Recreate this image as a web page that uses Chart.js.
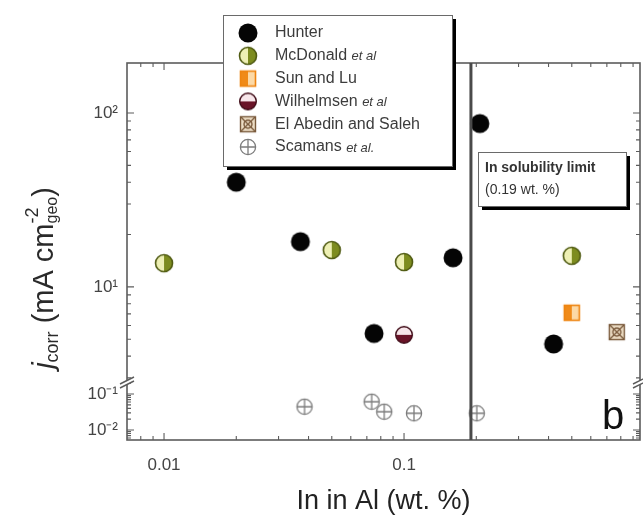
<!DOCTYPE html>
<html>
<head>
<meta charset="utf-8">
<script src="https://cdn.jsdelivr.net/npm/chart.js@4.4.1/dist/chart.umd.min.js"></script>
<style>
  html, body { margin: 0; padding: 0; background: #fff; }
</style>
</head>
<body>
<canvas id="c" width="643" height="518"></canvas>
<script>
// In content (wt. %) vs corrosion current density (mA cm-2)
const hunterX = [0.02, 0.037, 0.075, 0.16, 0.207, 0.42];
const hunterY = [40, 18.2, 5.4, 14.7, 87, 4.7];
const mcdonaldX = [0.01, 0.05, 0.1, 0.5];
const mcdonaldY = [13.7, 16.3, 13.9, 15.1];
const sunLuX = [0.5];
const sunLuY = [7.1];
const wilhelmsenX = [0.1];
const wilhelmsenY = [5.3];
const elAbedinX = [0.77];
const elAbedinY = [5.5];
const scamansX = [0.0385, 0.0733, 0.0827, 0.11, 0.201];
const scamansY = [0.0444, 0.061, 0.0322, 0.0291, 0.0291];

const seriesNames = ['Hunter', 'McDonald', 'Sun and Lu', 'Wilhelmsen', 'El Abedin and Saleh', 'Scamans'];
const seriesSuffix = ['', 'et al', '', 'et al', '', 'et al.'];

const xTickVals = [0.01, 0.1, 1];
const xTickLabels = ['0.01', '0.1', '1'];
const yTopTickVals = [10, 100];
const yTopTickLabels = ['10\u00b9', '10\u00b2'];
const yLowTickVals = [0.01, 0.1];
const yLowTickLabels = ['10\u207b\u00b2', '10\u207b\u00b9'];

const solubilityLimit = 0.19;

const FONT = "'Liberation Sans', Arial, sans-serif";
const frameColor = '#5c5c5c';

function pts(xs, ys) {
  return xs.map((x, i) => ({x: x, y: ys[i]}));
}

function makeMarker(kind) {
  const s = 22;
  const c = document.createElement('canvas');
  c.width = s; c.height = s;
  const g = c.getContext('2d');
  const m = s / 2;
  g.lineWidth = 1.2;
  if (kind === 'hunter') {
    g.beginPath(); g.arc(m, m, 9.5, 0, Math.PI * 2);
    g.fillStyle = '#050505'; g.fill();
  } else if (kind === 'mcdonald') {
    const r = 8.5;
    g.beginPath(); g.arc(m, m, r, Math.PI / 2, Math.PI * 1.5); g.closePath();
    g.fillStyle = '#eef0b4'; g.fill();
    g.beginPath(); g.arc(m, m, r, -Math.PI / 2, Math.PI / 2); g.closePath();
    g.fillStyle = '#7d8c1f'; g.fill();
    g.beginPath(); g.arc(m, m, r, 0, Math.PI * 2);
    g.strokeStyle = '#4f5a12'; g.lineWidth = 1.6; g.stroke();
  } else if (kind === 'sun') {
    const h = 8;
    g.fillStyle = '#f08a18'; g.fillRect(m - h, m - h, h, 2 * h);
    g.fillStyle = '#fcd9a6'; g.fillRect(m, m - h, h, 2 * h);
    g.strokeStyle = '#ee8410'; g.lineWidth = 1.6; g.strokeRect(m - h + 0.5, m - h + 0.5, 2 * h - 1, 2 * h - 1);
  } else if (kind === 'wilhelmsen') {
    const r = 8.3;
    g.beginPath(); g.arc(m, m, r, Math.PI, Math.PI * 2); g.closePath();
    g.fillStyle = '#f7e6ea'; g.fill();
    g.beginPath(); g.arc(m, m, r, 0, Math.PI); g.closePath();
    g.fillStyle = '#6a1428'; g.fill();
    g.beginPath(); g.arc(m, m, r, 0, Math.PI * 2);
    g.strokeStyle = '#3e0a16'; g.lineWidth = 1.4; g.stroke();
  } else if (kind === 'elabedin') {
    const h = 7.5;
    g.fillStyle = '#ecdcc4'; g.fillRect(m - h, m - h, 2 * h, 2 * h);
    g.strokeStyle = '#7a5a3c'; g.lineWidth = 1.4;
    g.strokeRect(m - h, m - h, 2 * h, 2 * h);
    g.beginPath();
    g.moveTo(m - h, m - h); g.lineTo(m + h, m + h);
    g.moveTo(m + h, m - h); g.lineTo(m - h, m + h);
    g.stroke();
    g.beginPath(); g.arc(m, m, 4, 0, Math.PI * 2); g.stroke();
  } else if (kind === 'scamans') {
    const r = 7.6;
    g.beginPath(); g.arc(m, m, r, 0, Math.PI * 2);
    g.fillStyle = '#ffffff'; g.fill();
    g.strokeStyle = '#7c7c7c'; g.lineWidth = 1.3; g.stroke();
    g.beginPath();
    g.moveTo(m - r, m); g.lineTo(m + r, m);
    g.moveTo(m, m - r); g.lineTo(m, m + r);
    g.stroke();
  }
  return c;
}

const markers = ['hunter', 'mcdonald', 'sun', 'wilhelmsen', 'elabedin', 'scamans'].map(makeMarker);

function fullName(i) {
  return seriesSuffix[i] ? seriesNames[i] + ' ' + seriesSuffix[i] : seriesNames[i];
}

function logTicks(scale) {
  const out = [];
  const lo = Math.floor(Math.log10(scale.min)), hi = Math.ceil(Math.log10(scale.max));
  for (let d = lo; d <= hi; d++) {
    for (let k = 1; k < 10; k++) {
      const v = k * Math.pow(10, d);
      if (v >= scale.min && v <= scale.max) out.push({v: v, major: k === 1});
    }
  }
  return out;
}

// frame, inward ticks and axis break marks
const framePlugin = {
  id: 'frame',
  beforeDatasetsDraw(chart) {
    const ctx = chart.ctx;
    const a = chart.chartArea;
    const xs = chart.scales.x, yt = chart.scales.y, yl = chart.scales.yLow;
    ctx.save();
    ctx.strokeStyle = frameColor;
    ctx.lineWidth = 1.6;
    ctx.strokeRect(a.left, a.top, a.right - a.left, a.bottom - a.top);
    ctx.lineWidth = 1.1;
    ctx.beginPath();
    logTicks(xs).forEach(t => {
      const px = xs.getPixelForValue(t.v);
      const len = t.major ? 7 : 4;
      ctx.moveTo(px, a.bottom); ctx.lineTo(px, a.bottom - len);
      ctx.moveTo(px, a.top); ctx.lineTo(px, a.top + len);
    });
    [yt, yl].forEach(s => {
      logTicks(s).forEach(t => {
        const py = s.getPixelForValue(t.v);
        const len = t.major ? 7 : 4;
        ctx.moveTo(a.left, py); ctx.lineTo(a.left + len, py);
        ctx.moveTo(a.right, py); ctx.lineTo(a.right - len, py);
      });
    });
    ctx.stroke();
    // break marks between the two y sections
    const by = yt.bottom;
    [a.left, a.right].forEach(bx => {
      ctx.fillStyle = '#ffffff';
      ctx.beginPath();
      ctx.moveTo(bx - 7, by + 2); ctx.lineTo(bx + 7, by - 5);
      ctx.lineTo(bx + 7, by - 1); ctx.lineTo(bx - 7, by + 6);
      ctx.closePath(); ctx.fill();
      ctx.strokeStyle = frameColor; ctx.lineWidth = 1.4;
      ctx.beginPath();
      ctx.moveTo(bx - 7, by + 2); ctx.lineTo(bx + 7, by - 5);
      ctx.moveTo(bx - 7, by + 6); ctx.lineTo(bx + 7, by - 1);
      ctx.stroke();
    });
    ctx.restore();
  },
  afterDatasetsDraw(chart) {
    const ctx = chart.ctx;
    const a = chart.chartArea;
    const px = chart.scales.x.getPixelForValue(solubilityLimit);
    ctx.save();
    ctx.strokeStyle = '#4a4a4a';
    ctx.lineWidth = 3;
    ctx.beginPath(); ctx.moveTo(px, a.top); ctx.lineTo(px, a.bottom); ctx.stroke();
    // tick label "1" that sits at the right edge
    ctx.fillStyle = '#444';
    ctx.font = '17px ' + FONT;
    ctx.textAlign = 'center'; ctx.textBaseline = 'middle';
    ctx.fillText(xTickLabels[2], chart.scales.x.getPixelForValue(xTickVals[2]) + 3, 465);
    ctx.restore();
  }
};

function boxWithShadow(ctx, x, y, w, h) {
  ctx.fillStyle = '#000';
  ctx.fillRect(x + 4, y + 4, w, h);
  ctx.fillStyle = '#fff';
  ctx.fillRect(x, y, w, h);
  ctx.strokeStyle = '#6a6a6a'; ctx.lineWidth = 1;
  ctx.strokeRect(x + 0.5, y + 0.5, w, h);
}

// legend, solubility box, panel letter and y title
const overlayPlugin = {
  id: 'overlay',
  afterDraw(chart) {
    const ctx = chart.ctx;
    ctx.save();
    // legend
    boxWithShadow(ctx, 223, 15, 229, 151);
    chart.data.datasets.forEach((ds, i) => {
      const cy = 33 + i * 22.8;
      const mk = markers[i];
      ctx.drawImage(mk, 248 - mk.width / 2, cy - mk.height / 2);
      ctx.fillStyle = '#3c3c3c';
      ctx.textBaseline = 'middle'; ctx.textAlign = 'left';
      ctx.font = '16px ' + FONT;
      ctx.fillText(seriesNames[i], 275, cy);
      if (seriesSuffix[i]) {
        const w = ctx.measureText(seriesNames[i] + ' ').width;
        ctx.font = 'italic 13px ' + FONT;
        ctx.fillText(seriesSuffix[i], 275 + w, cy + 1);
      }
    });
    // solubility limit note
    boxWithShadow(ctx, 478, 152, 148, 54);
    ctx.fillStyle = '#333';
    ctx.font = 'bold 14px ' + FONT;
    ctx.textAlign = 'left'; ctx.textBaseline = 'middle';
    ctx.fillText('In solubility limit', 485, 168);
    ctx.font = '14px ' + FONT;
    ctx.fillText('(0.19 wt. %)', 485, 190);
    // panel letter
    ctx.fillStyle = '#111';
    ctx.font = '40px ' + FONT;
    ctx.textAlign = 'center'; ctx.textBaseline = 'middle';
    ctx.fillText('b', 613, 418);
    // y axis title with sub/superscripts
    const parts = [
      {t: 'j', f: 'italic 29px ', dy: 0},
      {t: 'corr', f: '18px ', dy: 8},
      {t: ' (mA cm', f: '29px ', dy: 0},
      {t: '-2', f: '18px ', dy: -12, keep: true},
      {t: 'geo', f: '16px ', dy: 8},
      {t: ')', f: '29px ', dy: 0}
    ];
    let total = 0;
    parts.forEach(p => {
      ctx.font = p.f + FONT;
      p.w = ctx.measureText(p.t).width;
      if (!p.keep) total += p.w;
    });
    ctx.translate(45, 278);
    ctx.rotate(-Math.PI / 2);
    ctx.fillStyle = '#2a2a2a';
    ctx.textAlign = 'left'; ctx.textBaseline = 'middle';
    let u = -total / 2;
    parts.forEach(p => {
      ctx.font = p.f + FONT;
      ctx.fillText(p.t, u, p.dy);
      if (!p.keep) u += p.w;
    });
    ctx.restore();
  }
};

function pickLabels(vals, labels) {
  return function (value) {
    const i = vals.findIndex(v => Math.abs(v - value) / v < 1e-6);
    return i >= 0 ? labels[i] : '';
  };
}

function keepTicks(vals) {
  return function (scale) {
    scale.ticks = vals.filter(v => v >= scale.min && v <= scale.max).map(v => ({value: v}));
  };
}

const tickFont = {family: FONT, size: 17};

new Chart(document.getElementById('c'), {
  type: 'scatter',
  data: {
    datasets: [
      {label: fullName(0), data: pts(hunterX, hunterY), yAxisID: 'y', pointStyle: markers[0]},
      {label: fullName(1), data: pts(mcdonaldX, mcdonaldY), yAxisID: 'y', pointStyle: markers[1]},
      {label: fullName(2), data: pts(sunLuX, sunLuY), yAxisID: 'y', pointStyle: markers[2]},
      {label: fullName(3), data: pts(wilhelmsenX, wilhelmsenY), yAxisID: 'y', pointStyle: markers[3]},
      {label: fullName(4), data: pts(elAbedinX, elAbedinY), yAxisID: 'y', pointStyle: markers[4]},
      {label: fullName(5), data: pts(scamansX, scamansY), yAxisID: 'yLow', pointStyle: markers[5]}
    ]
  },
  options: {
    responsive: false,
    animation: false,
    devicePixelRatio: 1,
    layout: {autoPadding: false, padding: {top: 63, right: 3, left: 0, bottom: 0}},
    elements: {point: {radius: 9, hoverRadius: 9}},
    plugins: {legend: {display: false}, tooltip: {enabled: false}},
    scales: {
      x: {
        type: 'logarithmic',
        min: 0.00701, max: 0.962,
        grid: {display: false, drawTicks: false},
        border: {display: false},
        afterBuildTicks: keepTicks(xTickVals),
        afterFit: s => { s.height = 78; },
        ticks: {font: tickFont, color: '#444', padding: 15, maxRotation: 0, autoSkip: false,
          callback: pickLabels(xTickVals, xTickLabels)},
        title: {display: true, text: 'In in Al (wt. %)', color: '#222',
          font: {family: FONT, size: 27}, padding: {top: 0, bottom: 0}}
      },
      yLow: {
        type: 'logarithmic',
        position: 'left', stack: 'left', stackWeight: 58,
        min: 0.00528, max: 0.2154,
        grid: {display: false, drawTicks: false},
        border: {display: false},
        afterBuildTicks: keepTicks(yLowTickVals),
        afterFit: s => { s.width = 127; },
        ticks: {font: tickFont, color: '#444', padding: 9, autoSkip: false,
          callback: pickLabels(yLowTickVals, yLowTickLabels)}
      },
      y: {
        type: 'logarithmic',
        position: 'left', stack: 'left', stackWeight: 319,
        min: 2.84, max: 193.8,
        grid: {display: false, drawTicks: false},
        border: {display: false},
        afterBuildTicks: keepTicks(yTopTickVals),
        afterFit: s => { s.width = 127; },
        ticks: {font: tickFont, color: '#444', padding: 9, autoSkip: false,
          callback: pickLabels(yTopTickVals, yTopTickLabels)}
      }
    }
  },
  plugins: [framePlugin, overlayPlugin]
});
</script>
</body>
</html>
